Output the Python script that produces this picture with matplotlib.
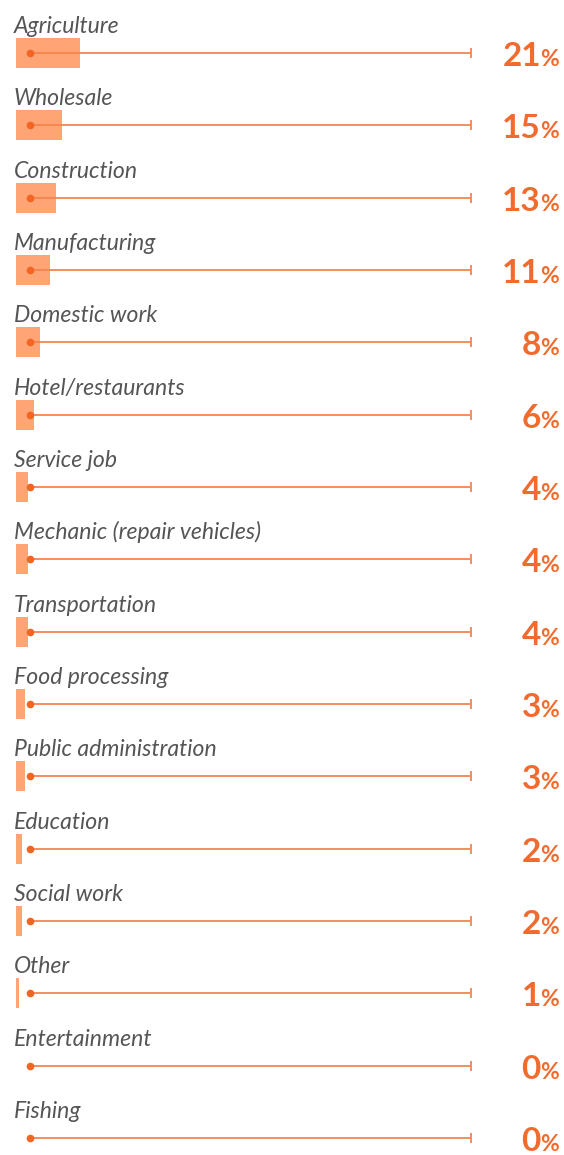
import matplotlib
matplotlib.use("Agg")
import matplotlib.pyplot as plt

categories = ["Agriculture", "Wholesale", "Construction", "Manufacturing",
              "Domestic work", "Hotel/restaurants", "Service job",
              "Mechanic (repair vehicles)", "Transportation", "Food processing",
              "Public administration", "Education", "Social work", "Other",
              "Entertainment", "Fishing"]
values = [21, 15, 13, 11, 8, 6, 4, 4, 4, 3, 3, 2, 2, 1, 0, 0]

W, H, DPI = 564, 1155, 100
PX_PER_PCT = 3.05
X0 = 16          # left edge of bars in px
ROW0, ROWSTEP = 53, 72.33

BAR_C = "#FFA475"
LINE_C = "#F5864F"
DOT_C = "#F26522"
PCT_C = "#F26B2E"
LABEL_C = "#555555"

fig = plt.figure(figsize=(W / DPI, H / DPI), dpi=DPI)
ax = fig.add_axes([0, 0, 1, 1])
ax.set_xlim(-X0 / PX_PER_PCT, (W - X0) / PX_PER_PCT)
ax.set_ylim((H - ROW0) / ROWSTEP, -ROW0 / ROWSTEP)
ax.axis("off")

def px_x(p):
    return (p - X0) / PX_PER_PCT

def px_y(p):
    return p / ROWSTEP

n = len(categories)
rows = list(range(n))
ax.barh(rows, values, height=30 / ROWSTEP, left=0, color=BAR_C, zorder=1)

for i, (cat, v) in enumerate(zip(categories, values)):
    x_start, x_end = px_x(30), px_x(471)
    ax.plot([x_start, x_end], [i, i], color=LINE_C, lw=1.3, zorder=2,
            solid_capstyle="butt")
    ax.plot([x_start], [i], "o", color=DOT_C, ms=4.5, zorder=3)
    ax.plot([x_end], [i], "|", color=LINE_C, ms=7, mew=1.3, zorder=3)
    ax.text(px_x(14), i - px_y(20), cat, fontsize=16.6, family="Lato",
            style="italic", fontweight="normal", color=LABEL_C,
            ha="left", va="baseline")
    ax.text(px_x(541), i + px_y(13), f"{v}", fontsize=24, family="Lato",
            fontweight="bold", color=PCT_C, ha="right", va="baseline")
    ax.text(px_x(540), i + px_y(13), "%", fontsize=16.5, family="Lato",
            fontweight="bold", color=PCT_C, ha="left", va="baseline")

fig.savefig("out.png", dpi=DPI)
